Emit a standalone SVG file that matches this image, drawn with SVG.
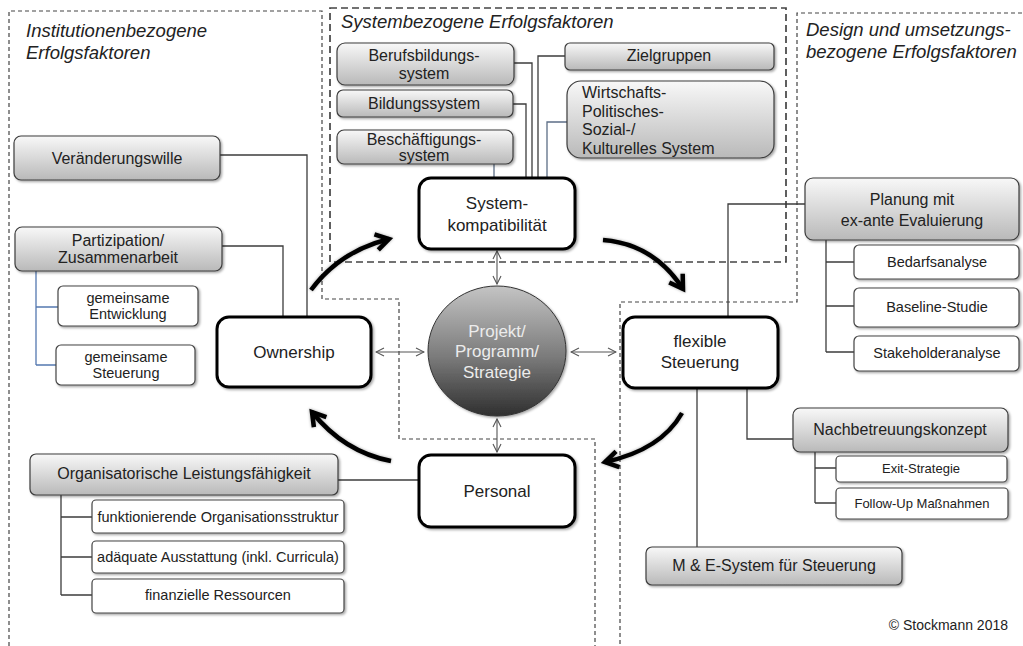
<svg xmlns="http://www.w3.org/2000/svg" width="1023" height="646" viewBox="0 0 1023 646">
<defs>
<linearGradient id="gg" x1="0" y1="0" x2="0" y2="1">
<stop offset="0" stop-color="#f8f8f8"/><stop offset="1" stop-color="#b9b9b9"/>
</linearGradient>
<linearGradient id="cg" x1="0" y1="0" x2="0" y2="1">
<stop offset="0" stop-color="#c4c4c4"/><stop offset="0.55" stop-color="#7a7a7a"/><stop offset="1" stop-color="#2f2f2f"/>
</linearGradient>
<filter id="sh" x="-10%" y="-20%" width="130%" height="150%">
<feDropShadow dx="1.5" dy="1.5" stdDeviation="1.3" flood-color="#000" flood-opacity="0.35"/>
</filter>
<filter id="ash" x="-20%" y="-20%" width="140%" height="140%">
<feDropShadow dx="0" dy="0" stdDeviation="1.8" flood-color="#000" flood-opacity="0.35"/>
</filter>
<marker id="big" viewBox="0 0 22 22" markerUnits="userSpaceOnUse" markerWidth="22" markerHeight="22" refX="17" refY="11" orient="auto">
<path d="M4,3 L17,11 L4,19" fill="none" stroke="#000" stroke-width="4.5" stroke-linejoin="miter"/>
</marker>
<marker id="thin" viewBox="0 0 10 10" markerUnits="userSpaceOnUse" markerWidth="10" markerHeight="10" refX="9" refY="5" orient="auto-start-reverse">
<path d="M1,1 L9,5 L1,9" fill="none" stroke="#555" stroke-width="1.1"/>
</marker>
<style>
.g{fill:url(#gg);stroke:#3c3c3c;stroke-width:1.2;filter:url(#sh)}
.w{fill:#fff;stroke:#444;stroke-width:1.2;filter:url(#sh)}
.k{fill:#fff;stroke:#000;stroke-width:3;filter:url(#sh)}
text{font-family:"Liberation Sans",Arial,sans-serif;fill:#222}
.c{text-anchor:middle}
.h{font-size:18.5px;font-style:italic}
.m{font-size:17px}
.n{font-size:16px}
.s{font-size:14.5px}
.x{font-size:13px}
.ln{fill:none;stroke:#3c3c3c;stroke-width:1.3}
.bl{fill:none;stroke:#5478b0;stroke-width:1.3}
.bg{fill:none;stroke:#5c6e86;stroke-width:1.3}
.d1{fill:none;stroke:#444;stroke-width:1.2;stroke-dasharray:4 3}
.d2{fill:none;stroke:#444;stroke-width:1.7;stroke-dasharray:7 4}
.arr{fill:none;stroke:#000;stroke-width:4.5;marker-end:url(#big);filter:url(#ash)}
.dbl{fill:none;stroke:#555;stroke-width:1.1;marker-start:url(#thin);marker-end:url(#thin)}
</style>
</defs>
<rect width="1023" height="646" fill="#fff"/>

<g id="regions">
<path class="d1" d="M9,646 V11 H322 V299 H399 V439 H595 V646"/>
<rect class="d2" x="330" y="8" width="456" height="254"/>
<path class="d1" d="M1022,13 H797 V302 H620 V646"/>
<text class="h" x="26" y="37">Institutionenbezogene</text>
<text class="h" x="26" y="59">Erfolgsfaktoren</text>
<text class="h" x="341" y="28">Systembezogene Erfolgsfaktoren</text>
<text class="h" x="806" y="36">Design und umsetzungs-</text>
<text class="h" x="806" y="58">bezogene Erfolgsfaktoren</text>
</g>

<g id="connectors">
<path class="ln" d="M220,155 H307 V317"/>
<path class="ln" d="M222,246 H283 V317"/>
<path class="bl" d="M36,271 V365 M36,307 H58 M36,365 H56"/>
<path class="ln" d="M338,480 H419"/>
<path class="ln" d="M61,495 V595 M61,517 H92 M61,557 H92 M61,595 H92"/>
<path class="ln" d="M514,63 H532 V178"/>
<path class="ln" d="M513,104 H526 V178"/>
<path class="bg" d="M494,164 V178"/>
<path class="ln" d="M565,56 H538 V178"/>
<path class="bg" d="M567,122 H547 V178"/>
<path class="ln" d="M805,204 H728 V317"/>
<path class="ln" d="M826,240 V352 M826,262 H854 M826,306 H854 M826,352 H854"/>
<path class="ln" d="M747,388 V439 H793"/>
<path class="ln" d="M815,452 V503 M815,468 H836 M815,503 H836"/>
<path class="ln" d="M697,388 V547"/>
<path class="dbl" d="M376,352 H424"/>
<path class="dbl" d="M571,352 H616"/>
<path class="dbl" d="M497,251 V284"/>
<path class="dbl" d="M497,419 V452"/>
<path class="arr" d="M311,290 Q340,251 389,239"/>
<path class="arr" d="M603,240 Q654,244 683,289"/>
<path class="arr" d="M682,413 Q661,450 605,462"/>
<path class="arr" d="M391,461 Q344,452 312,412"/>
</g>

<g id="n-veraenderung"><rect class="g" x="14" y="136" width="206" height="44" rx="7"/><text class="n c" x="117" y="164">Veränderungswille</text></g>
<g id="n-partizipation"><rect class="g" x="15" y="227" width="207" height="44" rx="7"/><text class="n c" x="118" y="246">Partizipation/</text><text class="n c" x="118" y="263">Zusammenarbeit</text></g>
<g id="n-gem-entw"><rect class="w" x="58" y="286" width="140" height="40" rx="5"/><text class="s c" x="128" y="303">gemeinsame</text><text class="s c" x="128" y="319">Entwicklung</text></g>
<g id="n-gem-steu"><rect class="w" x="56" y="345" width="139" height="40" rx="5"/><text class="s c" x="126" y="362">gemeinsame</text><text class="s c" x="126" y="378">Steuerung</text></g>
<g id="n-ownership"><rect class="k" x="217" y="317" width="154" height="70" rx="12"/><text class="m c" x="294" y="358">Ownership</text></g>

<g id="n-orga"><rect class="g" x="30" y="454" width="308" height="41" rx="6"/><text class="n c" x="184" y="479">Organisatorische Leistungsfähigkeit</text></g>
<g id="n-funkt"><rect class="w" x="92" y="500" width="252" height="33" rx="4"/><text class="s c" x="218" y="522">funktionierende Organisationsstruktur</text></g>
<g id="n-ausst"><rect class="w" x="92" y="541" width="252" height="32" rx="4"/><text class="s c" x="218" y="562">adäquate Ausstattung (inkl. Curricula)</text></g>
<g id="n-finanz"><rect class="w" x="92" y="579" width="252" height="34" rx="4"/><text class="s c" x="218" y="600">finanzielle Ressourcen</text></g>
<g id="n-personal"><rect class="k" x="419" y="455" width="156" height="72" rx="12"/><text class="m c" x="497" y="497">Personal</text></g>

<g id="n-berufsb"><rect class="g" x="337" y="43" width="177" height="42" rx="8"/><text class="n c" x="424" y="61">Berufsbildungs-</text><text class="n c" x="424" y="79">system</text></g>
<g id="n-bildung"><rect class="g" x="337" y="90" width="176" height="27" rx="6"/><text class="n c" x="424" y="109">Bildungssystem</text></g>
<g id="n-beschaeft"><rect class="g" x="337" y="130" width="176" height="34" rx="7"/><text class="n c" x="424" y="145">Beschäftigungs-</text><text class="n c" x="424" y="161">system</text></g>
<g id="n-ziel"><rect class="g" x="565" y="43" width="209" height="27" rx="5"/><text class="n c" x="669" y="61">Zielgruppen</text></g>
<g id="n-wirtschaft"><rect class="g" x="567" y="81" width="207" height="77" rx="14"/><text class="n" x="582" y="98">Wirtschafts-</text><text class="n" x="582" y="117">Politisches-</text><text class="n" x="582" y="135">Sozial-/</text><text class="n" x="582" y="154">Kulturelles System</text></g>
<g id="n-syskomp"><rect class="k" x="419" y="178" width="156" height="71" rx="12"/><text class="m c" x="497" y="209">System-</text><text class="m c" x="497" y="231">kompatibilität</text></g>

<g id="n-zentrum"><ellipse cx="497" cy="351" rx="69" ry="65" fill="url(#cg)" stroke="#333" stroke-width="1" filter="url(#sh)"/><text class="m c" x="497" y="337" style="fill:#ececec">Projekt/</text><text class="m c" x="497" y="357" style="fill:#ececec">Programm/</text><text class="m c" x="497" y="378" style="fill:#ececec">Strategie</text></g>

<g id="n-flexibel"><rect class="k" x="623" y="317" width="155" height="71" rx="12"/><text class="m c" x="700" y="347">flexible</text><text class="m c" x="700" y="368">Steuerung</text></g>
<g id="n-planung"><rect class="g" x="805" y="178" width="214" height="62" rx="8"/><text class="n c" x="912" y="205">Planung mit</text><text class="n c" x="912" y="226">ex-ante Evaluierung</text></g>
<g id="n-bedarf"><rect class="w" x="854" y="245" width="165" height="34" rx="5"/><text class="s c" x="937" y="267">Bedarfsanalyse</text></g>
<g id="n-baseline"><rect class="w" x="854" y="288" width="165" height="39" rx="5"/><text class="s c" x="937" y="312">Baseline-Studie</text></g>
<g id="n-stake"><rect class="w" x="854" y="336" width="165" height="35" rx="5"/><text class="s c" x="937" y="358">Stakeholderanalyse</text></g>
<g id="n-nachbetr"><rect class="g" x="793" y="408" width="215" height="44" rx="7"/><text class="n c" x="900" y="435">Nachbetreuungskonzept</text></g>
<g id="n-exit"><rect class="w" x="836" y="456" width="171" height="26" rx="4"/><text class="x c" x="921" y="473">Exit-Strategie</text></g>
<g id="n-follow"><rect class="w" x="836" y="488" width="172" height="31" rx="4"/><text class="x c" x="922" y="508">Follow-Up Maßnahmen</text></g>
<g id="n-me"><rect class="g" x="646" y="547" width="256" height="38" rx="6"/><text class="n c" x="774" y="571">M &amp; E-System für Steuerung</text></g>
<text x="1008" y="630" style="font-size:14px;text-anchor:end">© Stockmann 2018</text>
</svg>
